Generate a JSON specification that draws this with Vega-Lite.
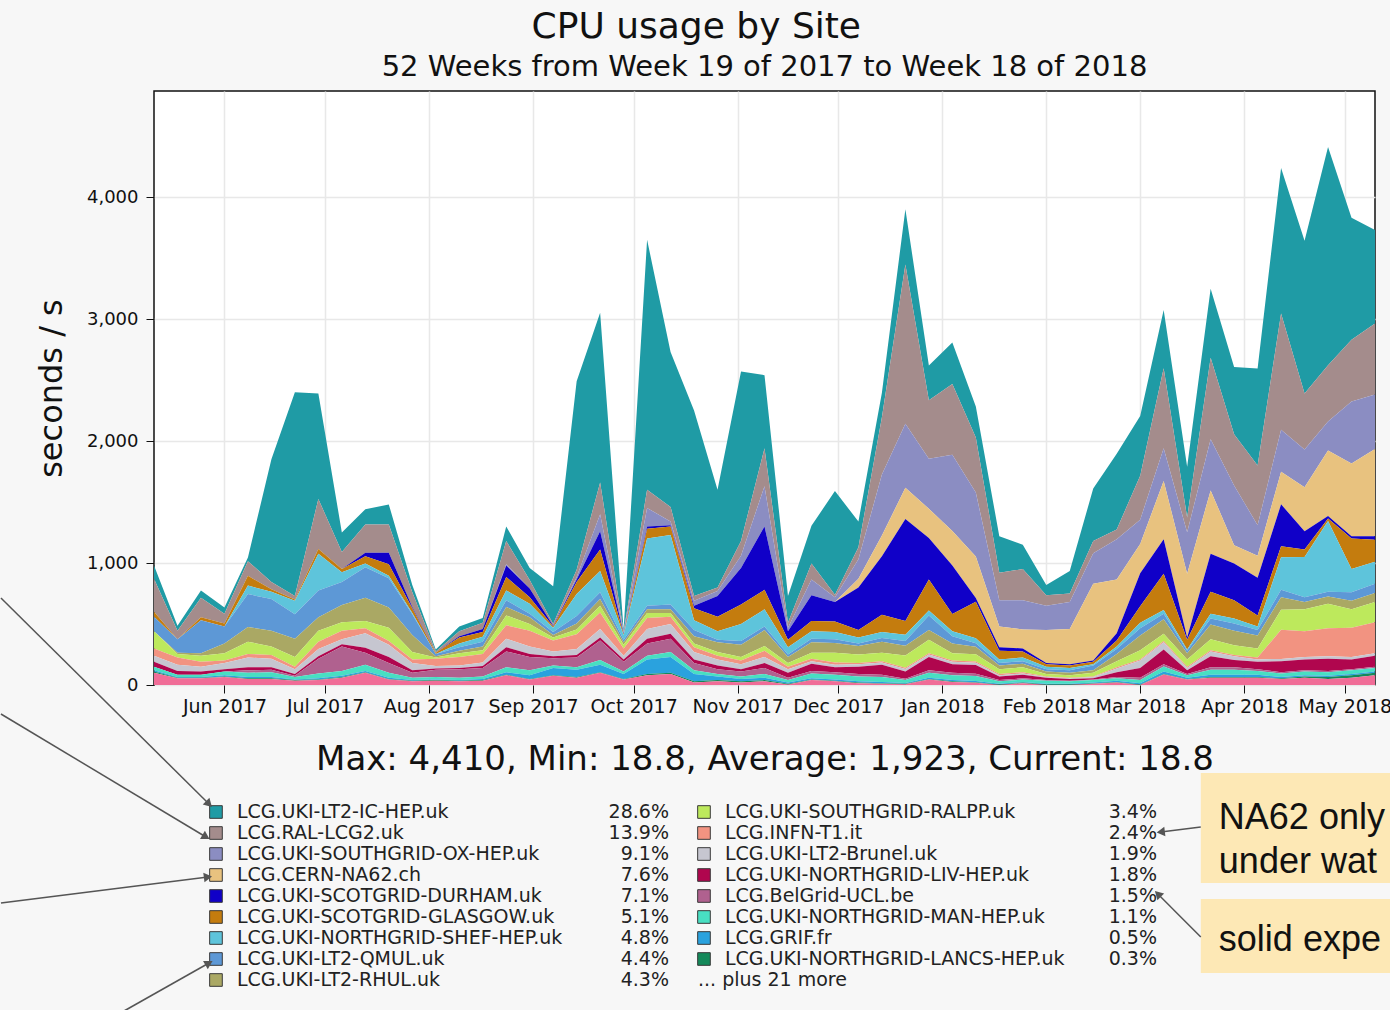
{
  "$schema": "https://vega.github.io/schema/vega-lite/v6.json",
  "background": "#f7f7f7",
  "padding": {"top": 9, "left": 0, "right": 0, "bottom": 0},
  "autosize": {"type": "pad"},
  "bounds": "flush",
  "spacing": 116,
  "title": {"text": "CPU usage by Site", "fontSize": 36, "anchor": "middle", "frame": "bounds", "offset": 6, "font": "DejaVu Sans", "fontWeight": "normal", "color": "#111"},
  "config": {
    "font": "DejaVu Sans",
    "axis": {"labelFont": "DejaVu Sans", "titleFont": "DejaVu Sans", "labelColor": "#111", "titleColor": "#111", "tickColor": "#111", "domain": false, "gridColor": "#e8e8e8", "gridWidth": 1.5, "titleFontWeight": "normal"},
    "title": {"font": "DejaVu Sans", "color": "#111", "fontWeight": "normal"}
  },
  "datasets": {
    "sites": [
      {"key": "IC", "site": "LCG.UKI-LT2-IC-HEP.uk", "rank": 1, "pct": 28.6},
      {"key": "RAL", "site": "LCG.RAL-LCG2.uk", "rank": 2, "pct": 13.9},
      {"key": "OX", "site": "LCG.UKI-SOUTHGRID-OX-HEP.uk", "rank": 3, "pct": 9.1},
      {"key": "NA62", "site": "LCG.CERN-NA62.ch", "rank": 4, "pct": 7.6},
      {"key": "DUR", "site": "LCG.UKI-SCOTGRID-DURHAM.uk", "rank": 5, "pct": 7.1},
      {"key": "GLA", "site": "LCG.UKI-SCOTGRID-GLASGOW.uk", "rank": 6, "pct": 5.1},
      {"key": "SHEF", "site": "LCG.UKI-NORTHGRID-SHEF-HEP.uk", "rank": 7, "pct": 4.8},
      {"key": "QMUL", "site": "LCG.UKI-LT2-QMUL.uk", "rank": 8, "pct": 4.4},
      {"key": "RHUL", "site": "LCG.UKI-LT2-RHUL.uk", "rank": 9, "pct": 4.3},
      {"key": "RALPP", "site": "LCG.UKI-SOUTHGRID-RALPP.uk", "rank": 10, "pct": 3.4},
      {"key": "INFN", "site": "LCG.INFN-T1.it", "rank": 11, "pct": 2.4},
      {"key": "BRU", "site": "LCG.UKI-LT2-Brunel.uk", "rank": 12, "pct": 1.9},
      {"key": "LIV", "site": "LCG.UKI-NORTHGRID-LIV-HEP.uk", "rank": 13, "pct": 1.8},
      {"key": "BEL", "site": "LCG.BelGrid-UCL.be", "rank": 14, "pct": 1.5},
      {"key": "MAN", "site": "LCG.UKI-NORTHGRID-MAN-HEP.uk", "rank": 15, "pct": 1.1},
      {"key": "GRIF", "site": "LCG.GRIF.fr", "rank": 16, "pct": 0.5},
      {"key": "LANCS", "site": "LCG.UKI-NORTHGRID-LANCS-HEP.uk", "rank": 17, "pct": 0.3},
      {"key": "OTH", "site": "... plus 21 more", "rank": 18, "pct": 2.2}
    ],
    "weeks": [
      {"d":"2017-05-11","IC":110,"RAL":270,"OX":0,"NA62":0,"DUR":0,"GLA":40,"SHEF":0,"QMUL":120,"RHUL":0,"RALPP":140,"INFN":60,"BRU":50,"LIV":40,"BEL":0,"MAN":30,"GRIF":10,"LANCS":10,"OTH":100},
      {"d":"2017-05-18","IC":40,"RAL":70,"OX":0,"NA62":0,"DUR":0,"GLA":0,"SHEF":0,"QMUL":110,"RHUL":10,"RALPP":30,"INFN":60,"BRU":50,"LIV":30,"BEL":0,"MAN":20,"GRIF":5,"LANCS":5,"OTH":55},
      {"d":"2017-05-25","IC":60,"RAL":160,"OX":0,"NA62":0,"DUR":0,"GLA":25,"SHEF":0,"QMUL":270,"RHUL":20,"RALPP":50,"INFN":40,"BRU":40,"LIV":25,"BEL":0,"MAN":20,"GRIF":5,"LANCS":5,"OTH":55},
      {"d":"2017-06-01","IC":50,"RAL":80,"OX":0,"NA62":0,"DUR":0,"GLA":25,"SHEF":0,"QMUL":140,"RHUL":80,"RALPP":60,"INFN":20,"BRU":50,"LIV":20,"BEL":0,"MAN":30,"GRIF":10,"LANCS":5,"OTH":65},
      {"d":"2017-06-08","IC":30,"RAL":120,"OX":0,"NA62":0,"DUR":0,"GLA":80,"SHEF":70,"QMUL":270,"RHUL":120,"RALPP":100,"INFN":30,"BRU":80,"LIV":25,"BEL":20,"MAN":35,"GRIF":10,"LANCS":5,"OTH":50},
      {"d":"2017-06-15","IC":1005,"RAL":60,"OX":0,"NA62":0,"DUR":0,"GLA":20,"SHEF":60,"QMUL":260,"RHUL":130,"RALPP":70,"INFN":30,"BRU":70,"LIV":20,"BEL":20,"MAN":40,"GRIF":10,"LANCS":5,"OTH":50},
      {"d":"2017-06-22","IC":1670,"RAL":30,"OX":0,"NA62":0,"DUR":0,"GLA":10,"SHEF":110,"QMUL":200,"RHUL":150,"RALPP":80,"INFN":20,"BRU":40,"LIV":15,"BEL":10,"MAN":20,"GRIF":5,"LANCS":5,"OTH":35},
      {"d":"2017-06-29","IC":865,"RAL":410,"OX":0,"NA62":0,"DUR":0,"GLA":40,"SHEF":300,"QMUL":220,"RHUL":110,"RALPP":90,"INFN":60,"BRU":60,"LIV":20,"BEL":120,"MAN":40,"GRIF":10,"LANCS":5,"OTH":40},
      {"d":"2017-07-06","IC":160,"RAL":140,"OX":0,"NA62":0,"DUR":0,"GLA":25,"SHEF":80,"QMUL":190,"RHUL":140,"RALPP":70,"INFN":70,"BRU":40,"LIV":20,"BEL":200,"MAN":40,"GRIF":10,"LANCS":5,"OTH":60},
      {"d":"2017-07-13","IC":125,"RAL":230,"OX":0,"NA62":0,"DUR":30,"GLA":60,"SHEF":30,"QMUL":250,"RHUL":190,"RALPP":60,"INFN":40,"BRU":120,"LIV":40,"BEL":100,"MAN":50,"GRIF":10,"LANCS":5,"OTH":100},
      {"d":"2017-07-20","IC":165,"RAL":230,"OX":0,"NA62":0,"DUR":95,"GLA":95,"SHEF":20,"QMUL":240,"RHUL":165,"RALPP":110,"INFN":30,"BRU":100,"LIV":50,"BEL":80,"MAN":40,"GRIF":10,"LANCS":5,"OTH":45},
      {"d":"2017-07-27","IC":60,"RAL":120,"OX":0,"NA62":0,"DUR":10,"GLA":40,"SHEF":10,"QMUL":170,"RHUL":140,"RALPP":60,"INFN":30,"BRU":60,"LIV":20,"BEL":40,"MAN":20,"GRIF":5,"LANCS":5,"OTH":30},
      {"d":"2017-08-03","IC":15,"RAL":10,"OX":0,"NA62":0,"DUR":0,"GLA":10,"SHEF":0,"QMUL":20,"RHUL":10,"RALPP":10,"INFN":60,"BRU":20,"LIV":10,"BEL":60,"MAN":20,"GRIF":5,"LANCS":5,"OTH":35},
      {"d":"2017-08-10","IC":40,"RAL":40,"OX":0,"NA62":0,"DUR":10,"GLA":50,"SHEF":30,"QMUL":30,"RHUL":20,"RALPP":30,"INFN":70,"BRU":20,"LIV":10,"BEL":70,"MAN":20,"GRIF":5,"LANCS":5,"OTH":30},
      {"d":"2017-08-17","IC":40,"RAL":50,"OX":0,"NA62":0,"DUR":25,"GLA":40,"SHEF":40,"QMUL":40,"RHUL":30,"RALPP":30,"INFN":70,"BRU":30,"LIV":15,"BEL":70,"MAN":20,"GRIF":10,"LANCS":5,"OTH":35},
      {"d":"2017-08-24","IC":120,"RAL":190,"OX":10,"NA62":0,"DUR":95,"GLA":110,"SHEF":80,"QMUL":55,"RHUL":70,"RALPP":80,"INFN":110,"BRU":70,"LIV":35,"BEL":130,"MAN":40,"GRIF":20,"LANCS":5,"OTH":80},
      {"d":"2017-08-31","IC":100,"RAL":70,"OX":0,"NA62":0,"DUR":70,"GLA":55,"SHEF":80,"QMUL":30,"RHUL":55,"RALPP":55,"INFN":130,"BRU":60,"LIV":25,"BEL":110,"MAN":40,"GRIF":30,"LANCS":5,"OTH":45},
      {"d":"2017-09-07","IC":310,"RAL":15,"OX":0,"NA62":0,"DUR":5,"GLA":10,"SHEF":35,"QMUL":25,"RHUL":20,"RALPP":25,"INFN":90,"BRU":40,"LIV":15,"BEL":60,"MAN":20,"GRIF":60,"LANCS":5,"OTH":75},
      {"d":"2017-09-14","IC":1545,"RAL":60,"OX":20,"NA62":0,"DUR":20,"GLA":100,"SHEF":180,"QMUL":60,"RHUL":50,"RALPP":40,"INFN":120,"BRU":50,"LIV":20,"BEL":80,"MAN":20,"GRIF":60,"LANCS":5,"OTH":60},
      {"d":"2017-09-21","IC":1392,"RAL":260,"OX":140,"NA62":0,"DUR":150,"GLA":175,"SHEF":175,"QMUL":55,"RHUL":55,"RALPP":55,"INFN":135,"BRU":70,"LIV":25,"BEL":160,"MAN":40,"GRIF":60,"LANCS":5,"OTH":100},
      {"d":"2017-09-28","IC":10,"RAL":10,"OX":10,"NA62":0,"DUR":5,"GLA":5,"SHEF":40,"QMUL":20,"RHUL":20,"RALPP":30,"INFN":60,"BRU":30,"LIV":20,"BEL":80,"MAN":20,"GRIF":40,"LANCS":5,"OTH":45},
      {"d":"2017-10-05","IC":2050,"RAL":150,"OX":150,"NA62":0,"DUR":20,"GLA":80,"SHEF":550,"QMUL":30,"RHUL":30,"RALPP":40,"INFN":90,"BRU":80,"LIV":40,"BEL":100,"MAN":30,"GRIF":120,"LANCS":10,"OTH":80},
      {"d":"2017-10-12","IC":1270,"RAL":120,"OX":30,"NA62":0,"DUR":10,"GLA":70,"SHEF":570,"QMUL":40,"RHUL":30,"RALPP":30,"INFN":60,"BRU":80,"LIV":40,"BEL":110,"MAN":40,"GRIF":130,"LANCS":10,"OTH":90},
      {"d":"2017-10-19","IC":1520,"RAL":40,"OX":40,"NA62":0,"DUR":20,"GLA":100,"SHEF":80,"QMUL":50,"RHUL":60,"RALPP":30,"INFN":40,"BRU":60,"LIV":30,"BEL":60,"MAN":30,"GRIF":60,"LANCS":10,"OTH":20},
      {"d":"2017-10-26","IC":800,"RAL":30,"OX":40,"NA62":0,"DUR":170,"GLA":120,"SHEF":70,"QMUL":20,"RHUL":80,"RALPP":30,"INFN":30,"BRU":50,"LIV":30,"BEL":40,"MAN":20,"GRIF":30,"LANCS":10,"OTH":30},
      {"d":"2017-11-02","IC":1390,"RAL":120,"OX":100,"NA62":0,"DUR":300,"GLA":160,"SHEF":140,"QMUL":30,"RHUL":100,"RALPP":30,"INFN":30,"BRU":40,"LIV":20,"BEL":40,"MAN":20,"GRIF":20,"LANCS":10,"OTH":20},
      {"d":"2017-11-09","IC":600,"RAL":310,"OX":330,"NA62":0,"DUR":520,"GLA":160,"SHEF":140,"QMUL":30,"RHUL":130,"RALPP":40,"INFN":50,"BRU":50,"LIV":40,"BEL":50,"MAN":30,"GRIF":20,"LANCS":10,"OTH":30},
      {"d":"2017-11-16","IC":220,"RAL":40,"OX":30,"NA62":0,"DUR":70,"GLA":60,"SHEF":60,"QMUL":20,"RHUL":50,"RALPP":30,"INFN":20,"BRU":30,"LIV":40,"BEL":20,"MAN":20,"GRIF":10,"LANCS":5,"OTH":5},
      {"d":"2017-11-23","IC":310,"RAL":130,"OX":130,"NA62":0,"DUR":210,"GLA":85,"SHEF":60,"QMUL":30,"RHUL":85,"RALPP":50,"INFN":20,"BRU":20,"LIV":60,"BEL":20,"MAN":40,"GRIF":10,"LANCS":5,"OTH":40},
      {"d":"2017-11-30","IC":850,"RAL":20,"OX":40,"NA62":0,"DUR":160,"GLA":85,"SHEF":60,"QMUL":30,"RHUL":80,"RALPP":80,"INFN":20,"BRU":20,"LIV":40,"BEL":20,"MAN":40,"GRIF":10,"LANCS":5,"OTH":30},
      {"d":"2017-12-07","IC":210,"RAL":100,"OX":160,"NA62":70,"DUR":350,"GLA":60,"SHEF":50,"QMUL":20,"RHUL":70,"RALPP":70,"INFN":10,"BRU":20,"LIV":60,"BEL":20,"MAN":40,"GRIF":10,"LANCS":5,"OTH":15},
      {"d":"2017-12-14","IC":200,"RAL":470,"OX":500,"NA62":170,"DUR":480,"GLA":140,"SHEF":50,"QMUL":30,"RHUL":90,"RALPP":70,"INFN":10,"BRU":20,"LIV":80,"BEL":20,"MAN":40,"GRIF":10,"LANCS":5,"OTH":10},
      {"d":"2017-12-21","IC":454,"RAL":1305,"OX":525,"NA62":255,"DUR":837,"GLA":113,"SHEF":50,"QMUL":40,"RHUL":80,"RALPP":100,"INFN":10,"BRU":20,"LIV":60,"BEL":10,"MAN":25,"GRIF":5,"LANCS":5,"OTH":6},
      {"d":"2017-12-28","IC":284,"RAL":480,"OX":410,"NA62":240,"DUR":340,"GLA":255,"SHEF":40,"QMUL":120,"RHUL":80,"RALPP":110,"INFN":10,"BRU":20,"LIV":110,"BEL":20,"MAN":40,"GRIF":10,"LANCS":5,"OTH":45},
      {"d":"2018-01-04","IC":340,"RAL":580,"OX":625,"NA62":284,"DUR":397,"GLA":142,"SHEF":40,"QMUL":60,"RHUL":80,"RALPP":60,"INFN":10,"BRU":20,"LIV":70,"BEL":20,"MAN":40,"GRIF":10,"LANCS":5,"OTH":25},
      {"d":"2018-01-11","IC":255,"RAL":450,"OX":525,"NA62":340,"DUR":30,"GLA":300,"SHEF":40,"QMUL":30,"RHUL":60,"RALPP":60,"INFN":10,"BRU":20,"LIV":70,"BEL":20,"MAN":40,"GRIF":10,"LANCS":5,"OTH":18},
      {"d":"2018-01-18","IC":300,"RAL":225,"OX":215,"NA62":170,"DUR":30,"GLA":70,"SHEF":30,"QMUL":20,"RHUL":30,"RALPP":40,"INFN":10,"BRU":10,"LIV":30,"BEL":10,"MAN":20,"GRIF":5,"LANCS":5,"OTH":0},
      {"d":"2018-01-25","IC":200,"RAL":255,"OX":240,"NA62":155,"DUR":25,"GLA":50,"SHEF":30,"QMUL":20,"RHUL":30,"RALPP":40,"INFN":10,"BRU":10,"LIV":30,"BEL":10,"MAN":20,"GRIF":5,"LANCS":5,"OTH":15},
      {"d":"2018-02-01","IC":85,"RAL":85,"OX":200,"NA62":270,"DUR":10,"GLA":20,"SHEF":20,"QMUL":20,"RHUL":20,"RALPP":20,"INFN":5,"BRU":5,"LIV":20,"BEL":5,"MAN":25,"GRIF":5,"LANCS":5,"OTH":0},
      {"d":"2018-02-08","IC":185,"RAL":70,"OX":220,"NA62":290,"DUR":10,"GLA":20,"SHEF":20,"QMUL":20,"RHUL":20,"RALPP":20,"INFN":5,"BRU":5,"LIV":15,"BEL":5,"MAN":20,"GRIF":5,"LANCS":5,"OTH":0},
      {"d":"2018-02-15","IC":430,"RAL":100,"OX":250,"NA62":630,"DUR":10,"GLA":20,"SHEF":10,"QMUL":40,"RHUL":20,"RALPP":30,"INFN":5,"BRU":10,"LIV":10,"BEL":5,"MAN":20,"GRIF":5,"LANCS":5,"OTH":10},
      {"d":"2018-02-22","IC":620,"RAL":80,"OX":330,"NA62":440,"DUR":60,"GLA":50,"SHEF":20,"QMUL":40,"RHUL":60,"RALPP":50,"INFN":10,"BRU":30,"LIV":40,"BEL":10,"MAN":20,"GRIF":10,"LANCS":5,"OTH":20},
      {"d":"2018-03-01","IC":490,"RAL":360,"OX":200,"NA62":240,"DUR":270,"GLA":135,"SHEF":45,"QMUL":60,"RHUL":120,"RALPP":75,"INFN":10,"BRU":60,"LIV":80,"BEL":20,"MAN":25,"GRIF":10,"LANCS":5,"OTH":0},
      {"d":"2018-03-08","IC":477,"RAL":656,"OX":268,"NA62":477,"DUR":283,"GLA":298,"SHEF":30,"QMUL":45,"RHUL":119,"RALPP":60,"INFN":10,"BRU":60,"LIV":119,"BEL":20,"MAN":40,"GRIF":20,"LANCS":5,"OTH":86},
      {"d":"2018-03-15","IC":417,"RAL":120,"OX":340,"NA62":522,"DUR":20,"GLA":80,"SHEF":10,"QMUL":20,"RHUL":50,"RALPP":60,"INFN":10,"BRU":20,"LIV":30,"BEL":10,"MAN":20,"GRIF":10,"LANCS":5,"OTH":45},
      {"d":"2018-03-22","IC":566,"RAL":668,"OX":420,"NA62":520,"DUR":310,"GLA":180,"SHEF":40,"QMUL":50,"RHUL":120,"RALPP":90,"INFN":10,"BRU":40,"LIV":90,"BEL":20,"MAN":40,"GRIF":20,"LANCS":5,"OTH":60},
      {"d":"2018-03-29","IC":551,"RAL":420,"OX":490,"NA62":150,"DUR":300,"GLA":150,"SHEF":40,"QMUL":60,"RHUL":120,"RALPP":80,"INFN":10,"BRU":30,"LIV":60,"BEL":20,"MAN":40,"GRIF":20,"LANCS":5,"OTH":60},
      {"d":"2018-04-05","IC":795,"RAL":490,"OX":250,"NA62":180,"DUR":310,"GLA":90,"SHEF":30,"QMUL":45,"RHUL":105,"RALPP":75,"INFN":15,"BRU":20,"LIV":60,"BEL":15,"MAN":30,"GRIF":20,"LANCS":5,"OTH":60},
      {"d":"2018-04-12","IC":1192,"RAL":954,"OX":343,"NA62":268,"DUR":343,"GLA":90,"SHEF":268,"QMUL":60,"RHUL":104,"RALPP":164,"INFN":238,"BRU":20,"LIV":89,"BEL":10,"MAN":30,"GRIF":10,"LANCS":5,"OTH":50},
      {"d":"2018-04-19","IC":1252,"RAL":460,"OX":310,"NA62":360,"DUR":150,"GLA":60,"SHEF":330,"QMUL":40,"RHUL":60,"RALPP":180,"INFN":210,"BRU":20,"LIV":90,"BEL":10,"MAN":30,"GRIF":10,"LANCS":10,"OTH":60},
      {"d":"2018-04-26","IC":1788,"RAL":462,"OX":238,"NA62":537,"DUR":20,"GLA":20,"SHEF":580,"QMUL":40,"RHUL":60,"RALPP":200,"INFN":230,"BRU":20,"LIV":100,"BEL":10,"MAN":30,"GRIF":10,"LANCS":15,"OTH":50},
      {"d":"2018-05-03","IC":1000,"RAL":507,"OX":507,"NA62":596,"DUR":20,"GLA":250,"SHEF":190,"QMUL":70,"RHUL":70,"RALPP":150,"INFN":240,"BRU":20,"LIV":80,"BEL":10,"MAN":30,"GRIF":10,"LANCS":20,"OTH":60},
      {"d":"2018-05-10","IC":766,"RAL":581,"OX":447,"NA62":715,"DUR":30,"GLA":180,"SHEF":180,"QMUL":75,"RHUL":75,"RALPP":165,"INFN":255,"BRU":20,"LIV":90,"BEL":10,"MAN":30,"GRIF":10,"LANCS":20,"OTH":80}
    ]
  },
  "vconcat": [
    {
      "width": 1221,
      "height": 594,
      "title": {"text": "52 Weeks from Week 19 of 2017 to Week 18 of 2018", "fontSize": 29, "anchor": "middle", "offset": 9},
      "view": {"fill": "#ffffff", "stroke": "#111111", "strokeWidth": 1.5},
      "data": {"name": "weeks"},
      "transform": [
        {"fold": ["IC","RAL","OX","NA62","DUR","GLA","SHEF","QMUL","RHUL","RALPP","INFN","BRU","LIV","BEL","MAN","GRIF","LANCS","OTH"], "as": ["key", "value"]},
        {"lookup": "key", "from": {"data": {"name": "sites"}, "key": "key", "fields": ["rank"]}}
      ],
      "mark": {"type": "area", "interpolate": "linear"},
      "encoding": {
        "x": {"field": "d", "type": "temporal",
          "scale": {"type": "utc", "domain": [{"year": 2017, "month": 5, "date": 11, "utc": true}, {"year": 2018, "month": 5, "date": 10, "utc": true}]},
          "title": "Max: 4,410, Min: 18.8, Average: 1,923, Current: 18.8",
          "axis": {"format": "%b %Y", "tickCount": {"interval": "month", "step": 1}, "labelFontSize": 19, "tickSize": 8, "labelPadding": 4, "titleFontSize": 34, "titlePadding": 26, "grid": true, "labelFlush": false, "labelOverlap": false}},
        "y": {"field": "value", "type": "quantitative", "stack": "zero",
          "scale": {"domain": [0, 4869], "nice": false},
          "title": "seconds / s",
          "axis": {"values": [0, 1000, 2000, 3000, 4000], "format": ",d", "labelFontSize": 18, "tickSize": 8, "labelPadding": 8, "titleFontSize": 32, "titlePadding": 18, "grid": true}},
        "color": {"field": "key", "type": "nominal", "legend": null,
          "scale": {"domain": ["IC","RAL","OX","NA62","DUR","GLA","SHEF","QMUL","RHUL","RALPP","INFN","BRU","LIV","BEL","MAN","GRIF","LANCS","OTH"],
                    "range": ["#1f9ba5","#a48c8c","#8b8dc2","#e8c27f","#1000c8","#c47c0e","#5ec4db","#5d98d6","#aaa864","#bde95c","#f29381","#c6c6d0","#b0064e","#b0618f","#48dfc2","#2aa2de","#14895a","#f06d97"]}},
        "order": {"field": "rank", "type": "quantitative", "sort": "descending"}
      }
    },
    {
      "width": 1221,
      "height": 189,
      "view": {"stroke": null},
      "layer": [
        {
          "data": {"name": "sites"},
          "transform": [{"filter": "datum.rank <= 17"}, {"calculate": "datum.rank <= 9 ? 0 : 1", "as": "col"}, {"calculate": "datum.rank <= 9 ? datum.rank - 1 : datum.rank - 10", "as": "row"}],
          "mark": {"type": "square", "size": 160, "stroke": "#3a3a3a", "strokeWidth": 1, "opacity": 1},
          "encoding": {
            "x": {"field": "col", "type": "quantitative", "scale": {"domain": [-0.127, 2.375], "nice": false, "zero": false}, "axis": null},
            "y": {"field": "row", "type": "quantitative", "scale": {"domain": [-0.5238, 8.4762], "nice": false, "zero": false, "reverse": true}, "axis": null},
            "color": {"field": "key", "type": "nominal", "legend": null,
              "scale": {"domain": ["IC","RAL","OX","NA62","DUR","GLA","SHEF","QMUL","RHUL","RALPP","INFN","BRU","LIV","BEL","MAN","GRIF","LANCS","OTH"],
                        "range": ["#1f9ba5","#a48c8c","#8b8dc2","#e8c27f","#1000c8","#c47c0e","#5ec4db","#5d98d6","#aaa864","#bde95c","#f29381","#c6c6d0","#b0064e","#b0618f","#48dfc2","#2aa2de","#14895a","#f06d97"]}}
          }
        },
        {
          "data": {"name": "sites"},
          "transform": [{"filter": "datum.rank <= 17"}, {"calculate": "datum.rank <= 9 ? 0 : 1", "as": "col"}, {"calculate": "datum.rank <= 9 ? datum.rank - 1 : datum.rank - 10", "as": "row"}],
          "mark": {"type": "text", "align": "left", "baseline": "middle", "dx": 21, "fontSize": 19, "color": "#222"},
          "encoding": {
            "x": {"field": "col", "type": "quantitative", "scale": {"domain": [-0.127, 2.375], "nice": false, "zero": false}, "axis": null},
            "y": {"field": "row", "type": "quantitative", "scale": {"domain": [-0.5238, 8.4762], "nice": false, "zero": false, "reverse": true}, "axis": null},
            "text": {"field": "site"}
          }
        },
        {
          "data": {"name": "sites"},
          "transform": [{"filter": "datum.rank <= 17"}, {"calculate": "datum.rank <= 9 ? 0 : 1", "as": "col"}, {"calculate": "datum.rank <= 9 ? datum.rank - 1 : datum.rank - 10", "as": "row"}, {"calculate": "format(datum.pct, '.1f') + '%'", "as": "pctLabel"}],
          "mark": {"type": "text", "align": "right", "baseline": "middle", "dx": 453, "fontSize": 19, "color": "#222"},
          "encoding": {
            "x": {"field": "col", "type": "quantitative", "scale": {"domain": [-0.127, 2.375], "nice": false, "zero": false}, "axis": null},
            "y": {"field": "row", "type": "quantitative", "scale": {"domain": [-0.5238, 8.4762], "nice": false, "zero": false, "reverse": true}, "axis": null},
            "text": {"field": "pctLabel"}
          }
        },
        {
          "data": {"name": "sites"},
          "transform": [{"filter": "datum.rank == 18"}, {"calculate": "1", "as": "col"}, {"calculate": "8", "as": "row"}],
          "mark": {"type": "text", "align": "left", "baseline": "middle", "dx": -6, "fontSize": 19, "color": "#222"},
          "encoding": {
            "x": {"field": "col", "type": "quantitative", "scale": {"domain": [-0.127, 2.375], "nice": false, "zero": false}, "axis": null},
            "y": {"field": "row", "type": "quantitative", "scale": {"domain": [-0.5238, 8.4762], "nice": false, "zero": false, "reverse": true}, "axis": null},
            "text": {"field": "site"}
          }
        },
        {
          "data": {"values": [{"c1": 2.018, "c2": 2.4078, "r1": -1.857, "r2": 3.381}, {"c1": 2.018, "c2": 2.4078, "r1": 4.143, "r2": 7.667}]},
          "mark": {"type": "rect", "fill": "#fde8b5"},
          "encoding": {
            "x": {"field": "c1", "type": "quantitative", "scale": {"domain": [-0.127, 2.375], "nice": false, "zero": false}, "axis": null},
            "x2": {"field": "c2"},
            "y": {"field": "r1", "type": "quantitative", "scale": {"domain": [-0.5238, 8.4762], "nice": false, "zero": false, "reverse": true}, "axis": null},
            "y2": {"field": "r2"}
          }
        },
        {
          "data": {"values": [{"c": 2.055, "r": 0.81, "t": "NA62 only"}, {"c": 2.055, "r": 2.905, "t": "under water"}, {"c": 2.055, "r": 6.62, "t": "solid experiment"}]},
          "mark": {"type": "text", "align": "left", "baseline": "alphabetic", "font": "Liberation Sans", "fontSize": 36, "limit": 172, "ellipsis": "\u200b", "color": "#111"},
          "encoding": {
            "x": {"field": "c", "type": "quantitative", "scale": {"domain": [-0.127, 2.375], "nice": false, "zero": false}, "axis": null},
            "y": {"field": "r", "type": "quantitative", "scale": {"domain": [-0.5238, 8.4762], "nice": false, "zero": false, "reverse": true}, "axis": null},
            "text": {"field": "t"}
          }
        },
        {
          "data": {"values": [
            {"c1": -0.4406, "r1": -10.19, "c2": -0.0143, "r2": -0.381, "ang": 134.7},
            {"c1": -0.4406, "r1": -4.667, "c2": -0.0205, "r2": 1.19, "ang": 121},
            {"c1": -0.4406, "r1": 4.333, "c2": -0.0164, "r2": 3.095, "ang": 82.8},
            {"c1": -0.1885, "r1": 9.476, "c2": -0.0143, "r2": 7.19, "ang": 60.5},
            {"c1": 2.018, "r1": 0.714, "c2": 1.936, "r2": 0.952, "ang": -97.1},
            {"c1": 2.018, "r1": 5.952, "c2": 1.93, "r2": 3.905, "ang": -45}
          ]},
          "layer": [
            {
              "mark": {"type": "rule", "stroke": "#555555", "strokeWidth": 1.5},
              "encoding": {
                "x": {"field": "c1", "type": "quantitative", "scale": {"domain": [-0.127, 2.375], "nice": false, "zero": false}, "axis": null},
                "x2": {"field": "c2"},
                "y": {"field": "r1", "type": "quantitative", "scale": {"domain": [-0.5238, 8.4762], "nice": false, "zero": false, "reverse": true}, "axis": null},
                "y2": {"field": "r2"}
              }
            },
            {
              "mark": {"type": "point", "shape": "triangle-up", "filled": true, "size": 90, "color": "#555555", "opacity": 1},
              "encoding": {
                "x": {"field": "c2", "type": "quantitative", "scale": {"domain": [-0.127, 2.375], "nice": false, "zero": false}, "axis": null},
                "y": {"field": "r2", "type": "quantitative", "scale": {"domain": [-0.5238, 8.4762], "nice": false, "zero": false, "reverse": true}, "axis": null},
                "angle": {"field": "ang", "type": "quantitative", "scale": null}
              }
            }
          ]
        }
      ]
    }
  ]
}
